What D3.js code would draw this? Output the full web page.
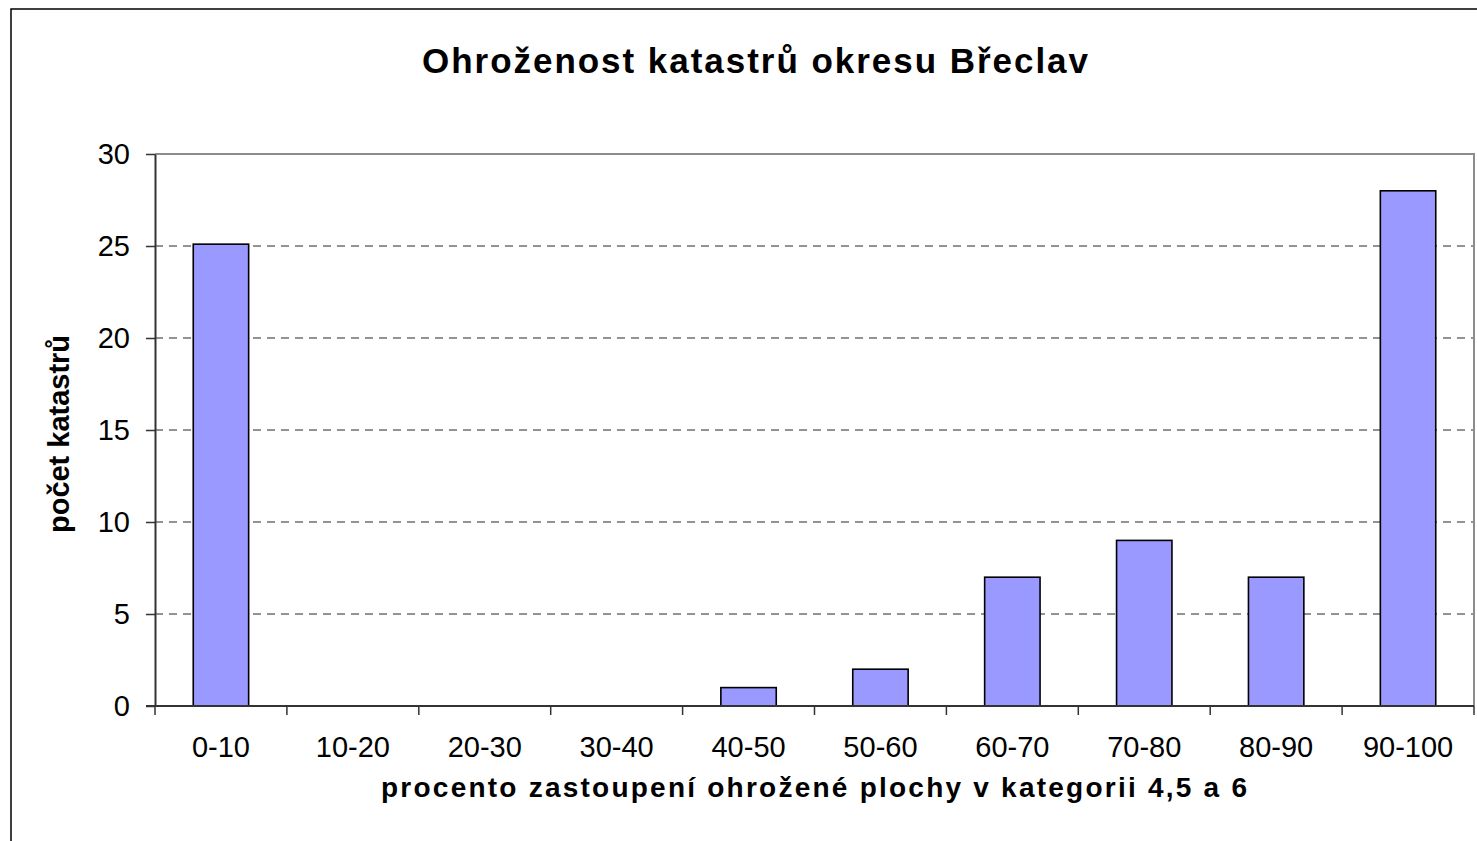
<!DOCTYPE html>
<html><head><meta charset="utf-8">
<script src="https://cdn.jsdelivr.net/npm/d3@7"></script>
<style>body{margin:0;background:#fff}svg{display:block}text{font-family:"Liberation Sans",Arial,sans-serif}</style>
</head><body><svg id="c" width="1477" height="841"></svg>
<script>
const categories = ["0-10","10-20","20-30","30-40","40-50","50-60","60-70","70-80","80-90","90-100"];
const values = [25.1, 0, 0, 0, 1, 2, 7, 9, 7, 28];
const yTicks = [0, 5, 10, 15, 20, 25, 30];
const titleText = "Ohroženost katastrů okresu Břeclav";
const xTitle = "procento zastoupení ohrožené plochy v kategorii 4,5 a 6";
const yTitle = "počet katastrů";

const svg = d3.select("#c");
const m = {l:155, r:1474, t:154, b:706};
svg.append("rect").attr("x",11).attr("y",9).attr("width",1500).attr("height",900)
  .attr("fill","#fff").attr("stroke","#000").attr("stroke-width",1.5);

const x = d3.scaleBand().domain(categories).range([m.l, m.r]).paddingInner(0.58).paddingOuter(0.29);
const xb = d3.scaleBand().domain(categories).range([m.l, m.r]);
const y = d3.scaleLinear().domain([0,30]).range([m.b, m.t]);

// gridlines
svg.append("g").selectAll("line").data(yTicks.filter(d=>d>0 && d<30)).join("line")
  .attr("x1",m.l).attr("x2",m.r).attr("y1",d=>y(d)).attr("y2",d=>y(d))
  .attr("stroke","#707070").attr("stroke-width",1.3).attr("stroke-dasharray","8,6");
// top & right border
svg.append("path").attr("d",`M${m.l},${y(30)}H${m.r}V${m.b}`).attr("fill","none")
  .attr("stroke","#8c8c8c").attr("stroke-width",2);

// bars
const barData = categories.map((c,i)=>({c, v: values[i]})).filter(d=>d.v>0);
svg.append("g").selectAll("rect").data(barData).join("rect")
  .attr("x",d=>x(d.c)).attr("width",x.bandwidth())
  .attr("y",d=>y(d.v)).attr("height",d=>y(0)-y(d.v))
  .attr("fill","#9999ff").attr("stroke","#000").attr("stroke-width",1.6);

// y axis
const ya = svg.append("g").attr("transform",`translate(${m.l},0)`)
  .call(d3.axisLeft(y).tickValues(yTicks).tickSize(9).tickPadding(16).tickSizeOuter(0));
ya.select(".domain").attr("stroke","#333").attr("stroke-width",2);
ya.selectAll(".tick line").attr("stroke","#333").attr("stroke-width",1.5);
ya.selectAll(".tick text").attr("font-size",29).attr("fill","#000").attr("font-family","Liberation Sans, Arial, sans-serif");

// x axis
const xa = svg.append("g").attr("transform",`translate(0,${m.b})`)
  .call(d3.axisBottom(xb).tickSize(0).tickPadding(30).tickSizeOuter(0));
xa.select(".domain").remove();
xa.selectAll(".tick text").attr("font-size",29).attr("fill","#000").attr("font-family","Liberation Sans, Arial, sans-serif");
svg.append("line").attr("x1",146).attr("x2",m.r).attr("y1",m.b).attr("y2",m.b).attr("stroke","#333").attr("stroke-width",2);
const bounds = categories.map(c=>xb(c)).concat([m.r]);
svg.append("g").selectAll("line").data(bounds).join("line")
  .attr("x1",d=>d).attr("x2",d=>d).attr("y1",m.b).attr("y2",m.b+9).attr("stroke","#333").attr("stroke-width",1.5);

// titles
svg.append("text").attr("x",755).attr("y",73).attr("text-anchor","middle")
  .attr("font-size",35).attr("font-weight","bold").attr("textLength",666).attr("lengthAdjust","spacing").text(titleText);
svg.append("text").attr("x",814).attr("y",797).attr("text-anchor","middle")
  .attr("font-size",28).attr("font-weight","bold").attr("textLength",866).attr("lengthAdjust","spacing").text(xTitle);
svg.append("text").attr("transform",`translate(69,${(m.t+m.b)/2+4}) rotate(-90)`).attr("text-anchor","middle")
  .attr("font-size",29).attr("font-weight","bold").attr("textLength",198).attr("lengthAdjust","spacingAndGlyphs").text(yTitle);
</script></body></html>
